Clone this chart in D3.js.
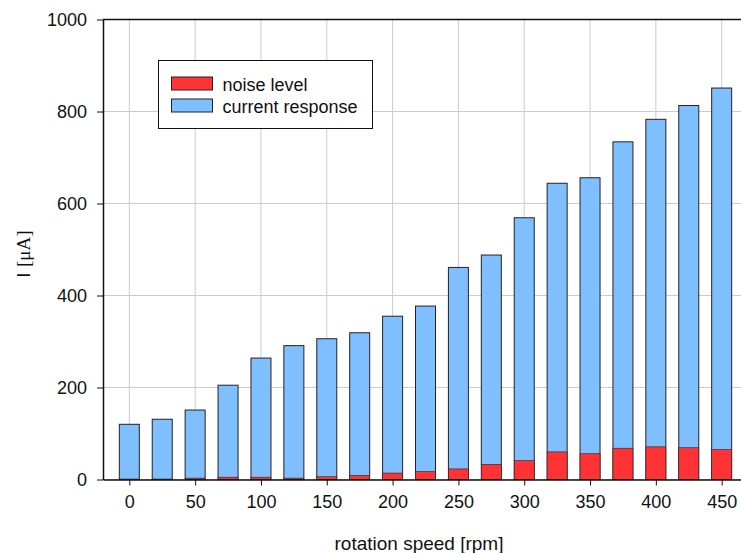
<!DOCTYPE html>
<html>
<head>
<meta charset="utf-8">
<script src="https://cdn.jsdelivr.net/npm/d3@7"></script>
<style>
  body { margin: 0; background: #fff; }
  text { font-family: "Liberation Sans", Arial, sans-serif; }
</style>
</head>
<body>
<div id="chart"></div>
<script>
// rotation speed [rpm]
const speeds = [0, 25, 50, 75, 100, 125, 150, 175, 200, 225, 250, 275, 300, 325, 350, 375, 400, 425, 450];
// current response [uA]
const response = [120, 131, 151, 205, 264, 291, 306, 319, 355, 377, 461, 488, 569, 644, 656, 734, 783, 813, 851];
// noise level [uA]
const noise = [1, 1, 3, 5, 5, 3, 6, 9, 14, 17, 23, 33, 41, 60, 56, 68, 71, 69, 65];

const xTicks = [0, 50, 100, 150, 200, 250, 300, 350, 400, 450];
const yTicks = [0, 200, 400, 600, 800, 1000];

function drawChart() {
  const width = 741, height = 553;
  const margin = ({top: 19.5, right: -7, bottom: 73.5, left: 103});
  const barWidth = 15.2;

  const x = d3.scaleLinear()
    .domain([-20, 470])
    .range([margin.left, width - margin.right]);

  const y = d3.scaleLinear()
    .domain([0, 1000])
    .range([height - margin.bottom, margin.top]);

  const svg = d3.select('#chart')
    .append('svg')
    .attr('width', width)
    .attr('height', height);

  // grid lines
  svg.append('g')
    .selectAll('line')
    .data(xTicks)
    .join('line')
      .attr('x1', d => x(d)).attr('x2', d => x(d))
      .attr('y1', y(0)).attr('y2', y(1000))
      .attr('stroke', '#cccccc')
      .attr('stroke-width', 1);

  svg.append('g')
    .selectAll('line')
    .data(yTicks)
    .join('line')
      .attr('x1', x(-20)).attr('x2', x(470))
      .attr('y1', d => y(d)).attr('y2', d => y(d))
      .attr('stroke', '#cccccc')
      .attr('stroke-width', 1);

  // bars: current response behind, noise level in front
  svg.append('g')
    .selectAll('rect')
    .data(speeds)
    .join('rect')
      .attr('x', (d, i) => x(d - barWidth / 2))
      .attr('width', x(barWidth) - x(0))
      .attr('y', (d, i) => y(response[i]))
      .attr('height', (d, i) => y(0) - y(response[i]))
      .attr('fill', '#80bfff')
      .attr('stroke', '#222')
      .attr('stroke-width', 1);

  svg.append('g')
    .selectAll('rect')
    .data(speeds)
    .join('rect')
      .attr('x', (d, i) => x(d - barWidth / 2))
      .attr('width', x(barWidth) - x(0))
      .attr('y', (d, i) => y(noise[i]))
      .attr('height', (d, i) => y(0) - y(noise[i]))
      .attr('fill', '#ff3333')
      .attr('stroke', '#222')
      .attr('stroke-width', 0.6);

  // axes
  svg.append('g')
    .attr('transform', `translate(0, ${y(0)})`)
    .call(d3.axisBottom(x).tickValues(xTicks).tickFormat(d3.format('d'))
      .tickSize(6).tickSizeOuter(0).tickPadding(10))
    .call(g => g.select('.domain').attr('stroke', '#111').attr('stroke-width', 1.5))
    .call(g => g.selectAll('.tick line').attr('stroke', '#111'))
    .call(g => g.selectAll('.tick text')
      .attr('font-size', 18)
      .attr('font-family', '"Liberation Sans", Arial, sans-serif')
      .attr('fill', '#111'));

  svg.append('g')
    .attr('transform', `translate(${x(-20)}, 0)`)
    .call(d3.axisLeft(y).tickValues(yTicks).tickFormat(d3.format('d'))
      .tickSize(6).tickSizeOuter(0).tickPadding(10))
    .call(g => g.select('.domain').attr('stroke', '#111').attr('stroke-width', 1.5))
    .call(g => g.selectAll('.tick line').attr('stroke', '#111'))
    .call(g => g.selectAll('.tick text')
      .attr('font-size', 18)
      .attr('font-family', '"Liberation Sans", Arial, sans-serif')
      .attr('fill', '#111'));

  // top frame
  svg.append('line')
    .attr('x1', x(-20)).attr('x2', x(470))
    .attr('y1', y(1000)).attr('y2', y(1000))
    .attr('stroke', '#111')
    .attr('stroke-width', 1.5);

  // axis labels
  svg.append('text')
    .attr('x', 419)
    .attr('y', 550)
    .attr('text-anchor', 'middle')
    .attr('font-size', 19)
    .attr('fill', '#111')
    .text('rotation speed [rpm]');

  const yl = svg.append('text')
    .attr('transform', `translate(30, ${y(490)}) rotate(-90)`)
    .attr('text-anchor', 'middle')
    .attr('font-size', 19)
    .attr('fill', '#111');
  yl.append('tspan').text('I ');
  yl.append('tspan')
    .attr('font-family', '"Liberation Serif", "Times New Roman", serif')
    .text('[\u03bcA]');

  // legend
  const legendItems = ['noise level', 'current response'];
  const legendColors = ['#ff3333', '#80bfff'];

  const legend = svg.append('g')
    .attr('transform', 'translate(158.5, 60.5)');

  legend.append('rect')
    .attr('width', 214)
    .attr('height', 68)
    .attr('fill', '#fff')
    .attr('stroke', '#111')
    .attr('stroke-width', 1);

  const item = legend.selectAll('g.item')
    .data(legendItems)
    .join('g')
      .attr('class', 'item')
      .attr('transform', (d, i) => `translate(13, ${16.5 + i * 22})`);

  item.append('rect')
    .attr('width', 41)
    .attr('height', 13)
    .attr('fill', (d, i) => legendColors[i])
    .attr('stroke', '#222')
    .attr('stroke-width', 1);

  item.append('text')
    .attr('x', 51)
    .attr('y', 13.5)
    .attr('font-size', 18)
    .attr('fill', '#111')
    .text(d => d);
}

window.onload = drawChart;
</script>
</body>
</html>
